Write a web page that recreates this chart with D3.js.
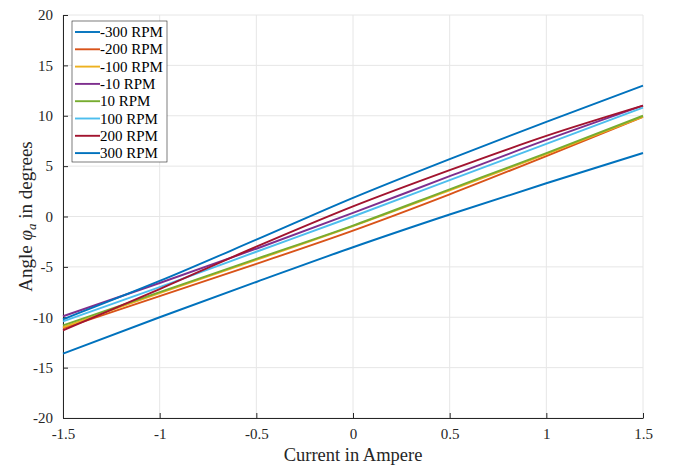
<!DOCTYPE html>
<html><head><meta charset="utf-8">
<script src="https://cdn.jsdelivr.net/npm/d3@7"></script>
<style>
body{margin:0;background:#fff;}
text{font-family:"Liberation Serif","Times New Roman",serif;}
</style></head>
<body><svg id="c" width="673" height="469"></svg>
<script>
const currents = [-1.5, -1, -0.5, 0, 0.5, 1, 1.5];
const seriesNames = ["-300 RPM","-200 RPM","-100 RPM","-10 RPM","10 RPM","100 RPM","200 RPM","300 RPM"];
const sM300 = [-13.6, -10.0, -6.5, -3.05, 0.2, 3.3, 6.3];
const sM200 = [-11.1, -7.9, -4.7, -1.4, 2.2, 6.0, 9.9];
const sM100 = [-11.0, -7.6, -4.3, -0.95, 2.6, 6.2, 9.9];
const sM10  = [-9.9, -6.6, -3.2, 0.35, 4.0, 7.6, 11.0];
const sP10  = [-10.8, -7.5, -4.2, -0.9, 2.7, 6.3, 10.0];
const sP100 = [-10.4, -7.0, -3.5, 0.0, 3.6, 7.2, 10.8];
const sP200 = [-11.3, -7.2, -3.0, 1.0, 4.6, 8.0, 11.0];
const sP300 = [-10.2, -6.4, -2.3, 1.85, 5.7, 9.4, 13.0];
const seriesValues = [sM300, sM200, sM100, sM10, sP10, sP100, sP200, sP300];
const colors = ["#0072BD","#D95319","#EDB120","#7E2F8E","#77AC30","#4DBEEE","#A2142F","#0072BD"];
const xTicks = [-1.5,-1,-0.5,0,0.5,1,1.5];
const yTicks = [-20,-15,-10,-5,0,5,10,15,20];

const svg = d3.select("#c");
const L=63, R=643, T=15, B=418;
const x = d3.scaleLinear().domain([-1.5,1.5]).range([L,R]);
const y = d3.scaleLinear().domain([-20,20]).range([B,T]);

// grid
const g = svg.append("g");
g.selectAll(".gx").data(xTicks).enter().append("line")
 .attr("x1",d=>x(d)).attr("x2",d=>x(d)).attr("y1",T).attr("y2",B)
 .attr("stroke","#e6e6e6").attr("stroke-width",1);
g.selectAll(".gy").data(yTicks).enter().append("line")
 .attr("x1",L).attr("x2",R).attr("y1",d=>y(d)).attr("y2",d=>y(d))
 .attr("stroke","#e6e6e6").attr("stroke-width",1);

// axes
const xAxis = d3.axisBottom(x).tickValues(xTicks).tickSizeInner(-5).tickSizeOuter(0).tickPadding(10).tickFormat(d=>String(d));
const yAxis = d3.axisLeft(y).tickValues(yTicks).tickSizeInner(-5).tickSizeOuter(0).tickPadding(10).tickFormat(d=>String(d));
const gx = svg.append("g").attr("transform",`translate(0,${B})`).call(xAxis);
const gy = svg.append("g").attr("transform",`translate(${L},0)`).call(yAxis);
[gx,gy].forEach(a=>{
  a.select(".domain").attr("stroke","#262626");
  a.selectAll(".tick line").attr("stroke","#262626");
  a.selectAll(".tick text").attr("fill","#262626").style("font-size","15px").style("font-family","'Liberation Serif',serif");
});

// lines
const line = d3.line().x((d,i)=>x(currents[i])).y(d=>y(d)).curve(d3.curveMonotoneX);
svg.append("g").selectAll("path").data(seriesValues).enter().append("path")
 .attr("d",d=>line(d)).attr("fill","none").attr("stroke",(d,i)=>colors[i]).attr("stroke-width",1.9);

// labels
svg.append("text").attr("x",(L+R)/2).attr("y",461).attr("text-anchor","middle")
 .attr("fill","#262626").style("font-size","18.5px").text("Current in Ampere");
const yl = svg.append("text").attr("transform",`translate(32,${(T+B)/2}) rotate(-90)`).attr("text-anchor","middle")
 .attr("fill","#262626").style("font-size","19px");
yl.append("tspan").text("Angle ");
yl.append("tspan").style("font-style","italic").text("φ");
yl.append("tspan").style("font-style","italic").style("font-size","13px").attr("dy",4).text("a");
yl.append("tspan").attr("dy",-4).text(" in degrees");

// legend
const lg = svg.append("g").attr("transform","translate(72,21)");
lg.append("rect").attr("x",0).attr("y",0).attr("width",95).attr("height",141)
 .attr("fill","#fff").attr("stroke","#262626").attr("stroke-width",0.6);
const items = lg.selectAll(".it").data(seriesNames).enter().append("g")
 .attr("transform",(d,i)=>`translate(0,${11+i*17.3})`);
items.append("line").attr("x1",3).attr("x2",28).attr("y1",0).attr("y2",0)
 .attr("stroke",(d,i)=>colors[i]).attr("stroke-width",1.9);
items.append("text").attr("x",28).attr("y",5).attr("fill","#000").style("font-size","15px").text(d=>d);
</script></body></html>
